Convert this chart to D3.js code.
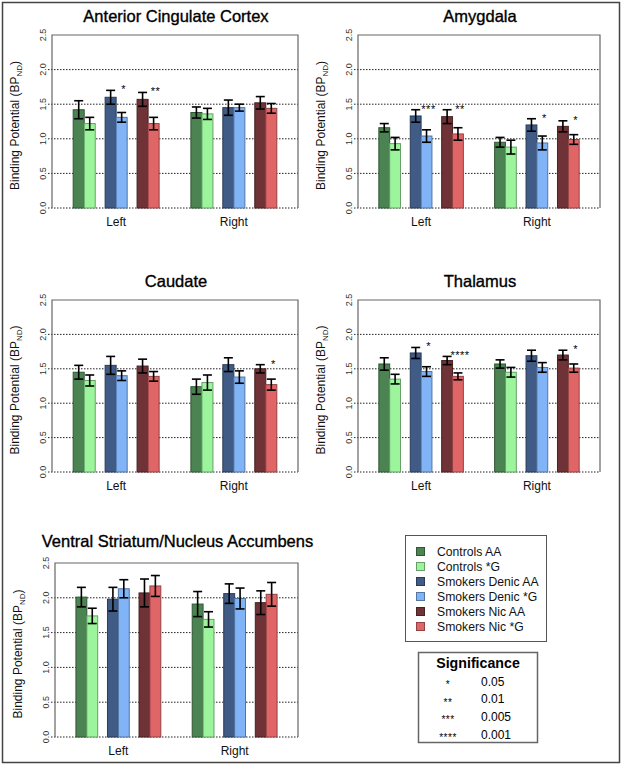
<!DOCTYPE html>
<meta charset="utf-8">
<script src="https://d3js.org/d3.v7.min.js"></script>
<style>
  body { margin: 0; background: #fff; }
  text { font-family: "Liberation Sans", Arial, sans-serif; }
</style>
<div id="my_dataviz"></div>
<script>

// categories
var regions = ["Anterior Cingulate Cortex", "Amygdala", "Caudate", "Thalamus", "Ventral Striatum/Nucleus Accumbens"];
var sides = ["Left", "Right"];
var genotypes = ["Controls AA", "Controls *G", "Smokers Denic AA", "Smokers Denic *G", "Smokers Nic AA", "Smokers Nic *G"];
var colors = ["#4b8452", "#9cf59c", "#3f5b86", "#80b4f6", "#6f3236", "#e06566"];
var yTicks = [0, 0.5, 1.0, 1.5, 2.0, 2.5];

// values per region: [Left six bars], [Right six bars]
var accMean = [[1.42, 1.22, 1.60, 1.31, 1.57, 1.22], [1.38, 1.36, 1.45, 1.45, 1.52, 1.44]];
var accErr  = [[0.13, 0.09, 0.10, 0.07, 0.10, 0.09], [0.08, 0.08, 0.11, 0.05, 0.09, 0.07]];
var accStars = [["", "", "", "*", "", "**"], ["", "", "", "", "", ""]];

var amyMean = [[1.16, 0.93, 1.33, 1.04, 1.32, 1.07], [0.95, 0.88, 1.20, 0.94, 1.18, 0.99]];
var amyErr  = [[0.06, 0.09, 0.09, 0.09, 0.10, 0.09], [0.07, 0.10, 0.09, 0.10, 0.08, 0.07]];
var amyStars = [["", "", "", "***", "", "**"], ["", "", "", "*", "", "*"]];

var cauMean = [[1.45, 1.33, 1.55, 1.40, 1.54, 1.39], [1.24, 1.30, 1.56, 1.38, 1.50, 1.27]];
var cauErr  = [[0.10, 0.08, 0.13, 0.07, 0.10, 0.07], [0.11, 0.11, 0.10, 0.09, 0.06, 0.08]];
var cauStars = [["", "", "", "", "", ""], ["", "", "", "", "", "*"]];

var thaMean = [[1.57, 1.35, 1.73, 1.46, 1.62, 1.39], [1.57, 1.45, 1.69, 1.52, 1.70, 1.51]];
var thaErr  = [[0.09, 0.07, 0.08, 0.07, 0.06, 0.05], [0.06, 0.07, 0.08, 0.07, 0.07, 0.06]];
var thaStars = [["", "", "", "*", "", "****"], ["", "", "", "", "", "*"]];

var vsMean = [[2.01, 1.74, 1.98, 2.13, 2.07, 2.17], [1.91, 1.69, 2.06, 1.99, 1.93, 2.05]];
var vsErr  = [[0.14, 0.11, 0.17, 0.13, 0.20, 0.15], [0.18, 0.11, 0.14, 0.15, 0.17, 0.17]];
var vsStars = [["", "", "", "", "", ""], ["", "", "", "", "", ""]];

var sigSymbols = ["*", "**", "***", "****"];
var sigLevels = ["0.05", "0.01", "0.005", "0.001"];

// panel boxes (plot region) on the page
var panels = [
  {title: regions[0], mean: accMean, err: accErr, stars: accStars, x0: 52, x1: 298, y0: 35, y1: 208, ty: 22},
  {title: regions[1], mean: amyMean, err: amyErr, stars: amyStars, x0: 358, x1: 600, y0: 35, y1: 208, ty: 22},
  {title: regions[2], mean: cauMean, err: cauErr, stars: cauStars, x0: 52, x1: 298, y0: 300, y1: 472, ty: 287},
  {title: regions[3], mean: thaMean, err: thaErr, stars: thaStars, x0: 358, x1: 600, y0: 300, y1: 472, ty: 287},
  {title: regions[4], mean: vsMean, err: vsErr, stars: vsStars, x0: 55, x1: 298, y0: 563, y1: 737, ty: 547}
];

var svg = d3.select("#my_dataviz")
  .append("svg")
    .attr("width", 622)
    .attr("height", 764);

// outer frame
svg.append("rect")
  .attr("x", 2.5).attr("y", 2.5)
  .attr("width", 617).attr("height", 760)
  .attr("fill", "none").attr("stroke", "#444").attr("stroke-width", 1.5);

panels.forEach(function(p) {
  var g = svg.append("g");

  var y = d3.scaleLinear().domain([0, 2.5]).range([p.y1, p.y0]);
  var xSide = d3.scaleBand().domain(sides).range([p.x0, p.x1])
    .paddingInner(0.27).paddingOuter(0.18);
  var xPair = d3.scaleBand().domain([0, 1, 2]).range([0, xSide.bandwidth()])
    .paddingInner(0.31).paddingOuter(0);
  var barW = xPair.bandwidth() / 2;
  function barX(side, i) {
    return xSide(side) + xPair(Math.floor(i / 2)) + (i % 2) * barW;
  }

  // gridlines (dotted)
  g.selectAll(".grid")
    .data(yTicks.slice(0, 5))
    .enter()
    .append("line")
      .attr("x1", p.x0 - 4).attr("x2", p.x1)
      .attr("y1", function(d) { return y(d); })
      .attr("y2", function(d) { return y(d); })
      .attr("stroke", "#222")
      .attr("stroke-width", 1)
      .attr("stroke-dasharray", "1.5,1.5");

  // box: left, top, right
  g.append("path")
    .attr("d", "M" + p.x0 + "," + p.y1 + "V" + p.y0 + "H" + p.x1 + "V" + p.y1)
    .attr("fill", "none").attr("stroke", "#666").attr("stroke-width", 1.2);

  // y axis tick labels (rotated)
  g.selectAll(".tick")
    .data(yTicks)
    .enter()
    .append("text")
      .attr("transform", function(d) { return "translate(" + (p.x0 - 9) + "," + y(d) + ") rotate(-90)"; })
      .attr("text-anchor", "middle")
      .attr("dy", "0.35em")
      .style("font-size", "9px")
      .style("fill", "#333")
      .text(function(d) { return d3.format(".1f")(d); });

  // y axis label
  var lab = g.append("text")
    .attr("transform", "translate(" + (p.x0 - 33) + "," + ((p.y0 + p.y1) / 2 + 4) + ") rotate(-90)")
    .attr("text-anchor", "middle")
    .style("font-size", "12px")
    .style("fill", "#111");
  lab.append("tspan").text("Binding Potential  (BP");
  lab.append("tspan").attr("dy", 3).style("font-size", "8px").text("ND");
  lab.append("tspan").attr("dy", -3).text(")");

  // title
  g.append("text")
    .attr("x", (p.x0 + p.x1) / 2 + 1)
    .attr("y", p.ty)
    .attr("text-anchor", "middle")
    .style("font-size", "16.5px")
    .style("fill", "#000")
    .style("stroke", "#000")
    .style("stroke-width", 0.35)
    .text(p.title);

  // side labels
  g.selectAll(".side")
    .data(sides)
    .enter()
    .append("text")
      .attr("x", function(d) { return xSide(d) + xSide.bandwidth() / 2; })
      .attr("y", p.y1 + 18)
      .attr("text-anchor", "middle")
      .style("font-size", "12px")
      .style("fill", "#111")
      .text(function(d) { return d; });

  sides.forEach(function(side, s) {
    var rows = genotypes.map(function(name, i) {
      return {i: i, m: p.mean[s][i], e: p.err[s][i], star: p.stars[s][i]};
    });

    // bars
    g.selectAll(".bar" + s)
      .data(rows)
      .enter()
      .append("rect")
        .attr("x", function(d) { return barX(side, d.i); })
        .attr("y", function(d) { return y(d.m); })
        .attr("width", barW)
        .attr("height", function(d) { return y(0) - y(d.m); })
        .attr("fill", function(d) { return colors[d.i]; })
        .attr("stroke", function(d) { return d3.color(colors[d.i]).darker(1.2); })
        .attr("stroke-width", 1);

    // error bars
    var eb = g.selectAll(".err" + s)
      .data(rows)
      .enter()
      .append("g")
        .attr("stroke", "#000")
        .attr("stroke-width", 1.6);
    eb.append("line")
      .attr("x1", function(d) { return barX(side, d.i) + barW / 2; })
      .attr("x2", function(d) { return barX(side, d.i) + barW / 2; })
      .attr("y1", function(d) { return y(d.m - d.e); })
      .attr("y2", function(d) { return y(d.m + d.e); });
    [-1, 1].forEach(function(sign) {
      eb.append("line")
        .attr("x1", function(d) { return barX(side, d.i) + barW / 2 - 4.5; })
        .attr("x2", function(d) { return barX(side, d.i) + barW / 2 + 4.5; })
        .attr("y1", function(d) { return y(d.m + sign * d.e); })
        .attr("y2", function(d) { return y(d.m + sign * d.e); });
    });

    // significance stars over the *G bar
    g.selectAll(".star" + s)
      .data(rows.filter(function(d) { return d.star !== ""; }))
      .enter()
      .append("text")
        .attr("x", function(d) { return barX(side, d.i) + barW / 2 + 2; })
        .attr("y", function(d) {
          var prev = rows[d.i - 1];
          var top = Math.max(d.m + d.e, prev.m + prev.e);
          return y(top + 0.06) + 7;
        })
        .attr("text-anchor", "middle")
        .style("font-size", "11px")
        .style("letter-spacing", "0.5px")
        .style("fill", "#000")
        .text(function(d) { return d.star; });
  });
});

// ---------------------------//
//       LEGEND               //
// ---------------------------//
var legend = svg.append("g");
legend.append("rect")
  .attr("x", 405.5).attr("y", 535.5).attr("width", 141).attr("height", 106)
  .attr("fill", "#fff").attr("stroke", "#555").attr("stroke-width", 1);
legend.selectAll(".sw")
  .data(genotypes)
  .enter()
  .append("rect")
    .attr("x", 416.5)
    .attr("y", function(d, i) { return 547.5 + i * 15; })
    .attr("width", 8).attr("height", 8)
    .attr("fill", function(d, i) { return colors[i]; })
    .attr("stroke", function(d, i) { return d3.color(colors[i]).darker(1.2); });
legend.selectAll(".lt")
  .data(genotypes)
  .enter()
  .append("text")
    .attr("x", 437)
    .attr("y", function(d, i) { return 556 + i * 15; })
    .style("font-size", "12.2px")
    .style("fill", "#111")
    .text(function(d) { return d; });

// significance table
var sig = svg.append("g");
sig.append("rect")
  .attr("x", 418.5).attr("y", 652.5).attr("width", 119).attr("height", 90)
  .attr("fill", "#fff").attr("stroke", "#666").attr("stroke-width", 1.5);
sig.append("text")
  .attr("x", 478).attr("y", 667.5)
  .attr("text-anchor", "middle")
  .style("font-size", "14.2px").style("font-weight", "bold")
  .text("Significance");
sig.selectAll(".ss")
  .data(sigSymbols)
  .enter()
  .append("text")
    .attr("x", 448)
    .attr("y", function(d, i) { return 688 + i * 17.7; })
    .attr("text-anchor", "middle")
    .style("font-size", "10px")
    .style("letter-spacing", "0.5px")
    .style("fill", "#000")
    .text(function(d) { return d; });
sig.selectAll(".sl")
  .data(sigLevels)
  .enter()
  .append("text")
    .attr("x", 481)
    .attr("y", function(d, i) { return 685.5 + i * 17.7; })
    .style("font-size", "12px")
    .style("fill", "#000")
    .text(function(d) { return d; });

</script>
